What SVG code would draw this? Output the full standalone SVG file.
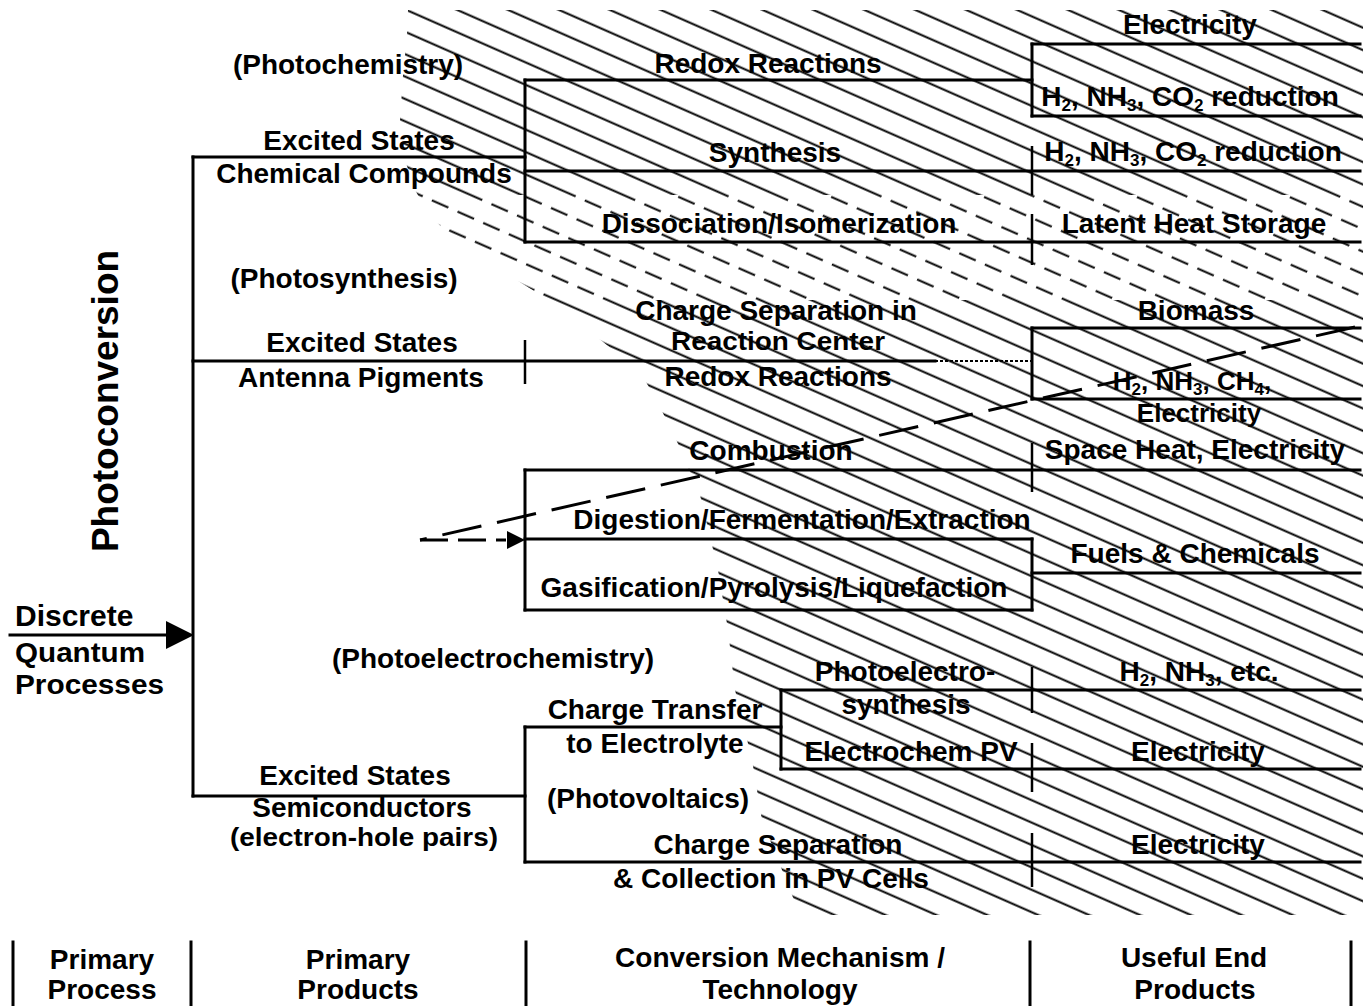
<svg xmlns="http://www.w3.org/2000/svg" width="1363" height="1006" viewBox="0 0 1363 1006">
<style>
text { font-family: "Liberation Sans", Arial, Helvetica, sans-serif; font-weight: bold; font-size: 28px; fill: #000; }
.c { text-anchor: middle; }
.s { font-size: 17px; }
.t { font-size: 26px; }
.ln { stroke: #000; stroke-width: 3; fill: none; stroke-linecap: square; }
.tk { stroke: #000; stroke-width: 2.5; fill: none; }
.dash { stroke: #000; stroke-width: 3; fill: none; stroke-dasharray: 40 16; }
</style>
<defs>
  <pattern id="hs" patternUnits="userSpaceOnUse" width="20.5" height="20.5" patternTransform="rotate(23.75)">
    <line x1="-1" y1="9.4" x2="22" y2="9.4" stroke="#000" stroke-width="2"/>
  </pattern>
  <pattern id="hd" patternUnits="userSpaceOnUse" width="28" height="20.5" patternTransform="rotate(23.75)">
    <line x1="0" y1="9.4" x2="18" y2="9.4" stroke="#000" stroke-width="2"/>
  </pattern>
  <clipPath id="hclip">
    <path d="M408,10 L1363,10 L1363,915 L800,915 L762,820 L752,760 L735,690 L728,630 L718,570 L700,495 L672,430 L645,380 L613,350 L560,307 L457,243 L427,212 L414,188 L405,160 L400,120 L403,75 L407,35 Z"/>
  </clipPath>
</defs>
<rect width="1363" height="1006" fill="#fff"/>

<g id="hatch" clip-path="url(#hclip)">
  <rect x="380" y="0" width="983" height="195" fill="url(#hs)"/>
  <rect x="380" y="195" width="983" height="105" fill="url(#hd)"/>
  <rect x="380" y="300" width="983" height="620" fill="url(#hs)"/>
</g>

<g id="connectors">
  <line class="ln" x1="10" y1="635" x2="170" y2="635"/>
  <polygon points="194,635 166,621 166,649" fill="#000"/>
  <line class="ln" x1="193" y1="157" x2="193" y2="796"/>
  <line class="ln" x1="193" y1="157" x2="525" y2="157"/>
  <line class="ln" x1="525" y1="80" x2="525" y2="242"/>
  <line class="ln" x1="525" y1="80" x2="1032" y2="80"/>
  <line class="ln" x1="1032" y1="44" x2="1032" y2="116"/>
  <line class="ln" x1="1032" y1="44" x2="1360" y2="44"/>
  <line class="ln" x1="1032" y1="116" x2="1360" y2="116"/>
  <line class="ln" x1="525" y1="171" x2="1360" y2="171"/>
  <line class="ln" x1="525" y1="242" x2="1360" y2="242"/>
  <line class="tk" x1="1032" y1="146" x2="1032" y2="195"/>
  <line class="tk" x1="1032" y1="214" x2="1032" y2="265"/>
  <line class="ln" x1="193" y1="361" x2="935" y2="361"/>
  <line x1="935" y1="361" x2="1032" y2="361" stroke="#000" stroke-width="2" stroke-dasharray="3 2"/>
  <line class="tk" x1="525" y1="340" x2="525" y2="384"/>
  <line class="ln" x1="1032" y1="328" x2="1032" y2="399"/>
  <line class="ln" x1="1032" y1="328" x2="1360" y2="328"/>
  <line class="ln" x1="1032" y1="399" x2="1360" y2="399"/>
  <line class="ln" x1="525" y1="470" x2="1360" y2="470"/>
  <line class="tk" x1="1032" y1="443" x2="1032" y2="492"/>
  <line class="ln" x1="525" y1="470" x2="525" y2="610"/>
  <line class="ln" x1="525" y1="539" x2="1032" y2="539"/>
  <line class="ln" x1="1032" y1="539" x2="1032" y2="610"/>
  <line class="ln" x1="1032" y1="573" x2="1360" y2="573"/>
  <line class="ln" x1="525" y1="610" x2="1032" y2="610"/>
  <path class="dash" d="M1355,327 L420,540"/>
  <path d="M420,540 L506,540" stroke="#000" stroke-width="3" fill="none" stroke-dasharray="28 10"/>
  <polygon points="525,540 507,531 507,549" fill="#000"/>
  <line class="ln" x1="193" y1="796" x2="525" y2="796"/>
  <line class="ln" x1="525" y1="727" x2="525" y2="862"/>
  <line class="ln" x1="525" y1="727" x2="781" y2="727"/>
  <line class="ln" x1="781" y1="690" x2="781" y2="769"/>
  <line class="ln" x1="781" y1="690" x2="1360" y2="690"/>
  <line class="ln" x1="781" y1="769" x2="1360" y2="769"/>
  <line class="ln" x1="525" y1="862" x2="1360" y2="862"/>
  <line class="tk" x1="1032" y1="667" x2="1032" y2="713"/>
  <line class="tk" x1="1032" y1="743" x2="1032" y2="792"/>
  <line class="tk" x1="1032" y1="833" x2="1032" y2="887"/>
  <line class="ln" x1="13" y1="942" x2="13" y2="1006"/>
  <line class="ln" x1="191" y1="942" x2="191" y2="1006"/>
  <line class="ln" x1="526" y1="942" x2="526" y2="1006"/>
  <line class="ln" x1="1030" y1="942" x2="1030" y2="1006"/>
  <line class="ln" x1="1351" y1="942" x2="1351" y2="1006"/>
</g>

<g id="node-photoconversion"><text class="c" transform="translate(118,401) rotate(-90)" style="font-size:37px">Photoconversion</text></g>
<g id="node-input">
  <text x="15" y="626" style="font-size:30px">Discrete</text>
  <text x="15" y="662" textLength="130" lengthAdjust="spacingAndGlyphs">Quantum</text>
  <text x="15" y="694" textLength="149" lengthAdjust="spacingAndGlyphs">Processes</text>
</g>

<g id="node-photochemistry"><text class="c" x="348" y="74">(Photochemistry)</text></g>
<g id="node-chemical-compounds">
  <text class="c" x="359" y="150">Excited States</text>
  <text class="c" x="364" y="183">Chemical Compounds</text>
</g>
<g id="node-photosynthesis"><text class="c" x="344" y="288">(Photosynthesis)</text></g>
<g id="node-antenna-pigments">
  <text class="c" x="362" y="352">Excited States</text>
  <text class="c" x="361" y="387">Antenna Pigments</text>
</g>
<g id="node-photoelectrochemistry"><text class="c" x="493" y="668">(Photoelectrochemistry)</text></g>
<g id="node-semiconductors">
  <text class="c" x="355" y="785">Excited States</text>
  <text class="c" x="362" y="817">Semiconductors</text>
  <text class="c t" x="364" y="846" textLength="268" lengthAdjust="spacingAndGlyphs">(electron-hole pairs)</text>
</g>

<g id="node-redox1"><text class="c" x="768" y="73">Redox Reactions</text></g>
<g id="node-synthesis"><text class="c" x="775" y="162">Synthesis</text></g>
<g id="node-dissociation"><text class="c" x="779" y="233">Dissociation/Isomerization</text></g>
<g id="node-electricity1"><text class="c" x="1190" y="34">Electricity</text></g>
<g id="node-h2-1"><text class="c" x="1190" y="106">H<tspan class="s" dy="5">2</tspan><tspan dy="-5">, NH</tspan><tspan class="s" dy="5">3</tspan><tspan dy="-5">, CO</tspan><tspan class="s" dy="5">2</tspan><tspan dy="-5"> reduction</tspan></text></g>
<g id="node-h2-2"><text class="c" x="1193" y="161">H<tspan class="s" dy="5">2</tspan><tspan dy="-5">, NH</tspan><tspan class="s" dy="5">3</tspan><tspan dy="-5">, CO</tspan><tspan class="s" dy="5">2</tspan><tspan dy="-5"> reduction</tspan></text></g>
<g id="node-latent"><text class="c" x="1194" y="233">Latent Heat Storage</text></g>

<g id="node-charge-sep-rc">
  <text class="c" x="776" y="320">Charge Separation in</text>
  <text class="c" x="778" y="350" style="font-size:25px" textLength="214" lengthAdjust="spacingAndGlyphs">Reaction Center</text>
</g>
<g id="node-redox2"><text class="c" x="778" y="386">Redox Reactions</text></g>
<g id="node-biomass"><text class="c" x="1196" y="320">Biomass</text></g>
<g id="node-h2-ch4">
  <text class="c t" x="1192" y="390">H<tspan class="s" dy="5">2</tspan><tspan dy="-5">, NH</tspan><tspan class="s" dy="5">3</tspan><tspan dy="-5">, CH</tspan><tspan class="s" dy="5">4</tspan><tspan dy="-5">,</tspan></text>
  <text class="c t" x="1199" y="422">Electricity</text>
</g>
<g id="node-combustion"><text class="c" x="771" y="460">Combustion</text></g>
<g id="node-spaceheat"><text class="c" x="1195" y="459">Space Heat, Electricity</text></g>
<g id="node-digestion"><text class="c" x="802" y="529">Digestion/Fermentation/Extraction</text></g>
<g id="node-gasification"><text class="c" x="774" y="597">Gasification/Pyrolysis/Liquefaction</text></g>
<g id="node-fuels"><text class="c" x="1195" y="563">Fuels &amp; Chemicals</text></g>

<g id="node-photoelectrosynthesis">
  <text class="c" x="905" y="681">Photoelectro-</text>
  <text class="c" x="906" y="714">synthesis</text>
</g>
<g id="node-h2-etc"><text class="c" x="1199" y="681">H<tspan class="s" dy="5">2</tspan><tspan dy="-5">, NH</tspan><tspan class="s" dy="5">3</tspan><tspan dy="-5">, etc.</tspan></text></g>
<g id="node-charge-transfer">
  <text class="c" x="655" y="719">Charge Transfer</text>
  <text class="c" x="655" y="753">to Electrolyte</text>
</g>
<g id="node-electrochem-pv"><text class="c" x="911" y="761">Electrochem PV</text></g>
<g id="node-electricity3"><text class="c" x="1198" y="761">Electricity</text></g>
<g id="node-photovoltaics"><text class="c" x="648" y="808">(Photovoltaics)</text></g>
<g id="node-charge-sep-pv">
  <text class="c" x="778" y="854">Charge Separation</text>
  <text class="c" x="771" y="888">&amp; Collection in PV Cells</text>
</g>
<g id="node-electricity4"><text class="c" x="1198" y="854">Electricity</text></g>

<g id="header">
  <g id="hdr-process"><text class="c" x="102" y="969">Primary</text><text class="c" x="102" y="999">Process</text></g>
  <g id="hdr-products"><text class="c" x="358" y="969">Primary</text><text class="c" x="358" y="999">Products</text></g>
  <g id="hdr-mechanism"><text class="c" x="780" y="967">Conversion Mechanism /</text><text class="c" x="780" y="999">Technology</text></g>
  <g id="hdr-end"><text class="c" x="1194" y="967">Useful End</text><text class="c" x="1195" y="999">Products</text></g>
</g>
</svg>
